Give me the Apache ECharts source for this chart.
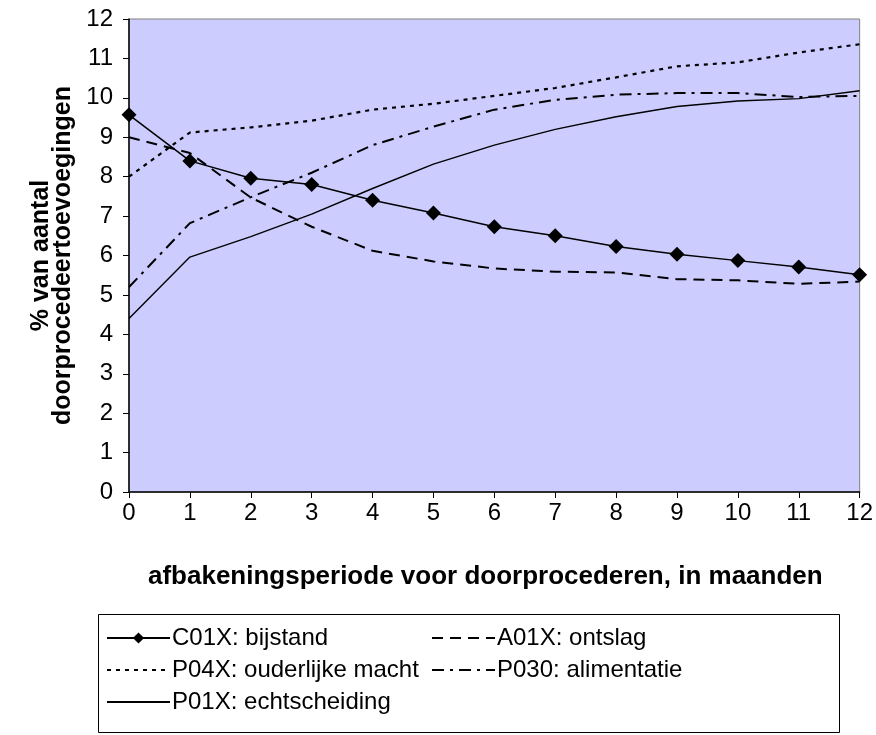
<!DOCTYPE html>
<html><head><meta charset="utf-8">
<script src="https://cdn.jsdelivr.net/npm/echarts@6/dist/echarts.min.js"></script>
<style>html,body{margin:0;padding:0;background:#fff}#c{width:876px;height:735px}</style>
</head><body><div id="c"></div>
<script>
const months = [0,1,2,3,4,5,6,7,8,9,10,11,12];
const c01x = [9.57,8.4,7.96,7.8,7.4,7.08,6.73,6.5,6.23,6.03,5.87,5.71,5.51];
const a01x = [9.0,8.6,7.47,6.73,6.12,5.85,5.67,5.59,5.57,5.4,5.37,5.28,5.34];
const p04x = [8.0,9.12,9.25,9.42,9.7,9.85,10.05,10.25,10.52,10.8,10.9,11.15,11.36];
const p030 = [5.2,6.82,7.48,8.1,8.8,9.27,9.7,9.95,10.08,10.12,10.12,10.02,10.05];
const p01x = [4.4,5.96,6.48,7.05,7.7,8.32,8.8,9.2,9.52,9.78,9.92,9.98,10.18];
const names = ['C01X: bijstand','A01X: ontslag','P04X: ouderlijke macht','P030: alimentatie','P01X: echtscheiding'];
const yTicks = [0,1,2,3,4,5,6,7,8,9,10,11,12];

const pair = a => months.map((m,i)=>[m,a[i]]);
const F = 'Liberation Sans, Arial, sans-serif';
const chart = echarts.init(document.getElementById('c'));
const hideSym = n => ({name:n, itemStyle:{opacity:0}});
const legendBase = {
  orient:'vertical', itemWidth:63, itemHeight:14, itemGap:8,
  textStyle:{fontFamily:F,fontSize:24,color:'#000',padding:[0,0,0,-3],lineHeight:24}
};
chart.setOption({
  animation:false,
  backgroundColor:'#fff',
  grid:{left:129,right:16,top:19,bottom:243,show:true,backgroundColor:'#CCCCFF',borderColor:'#808080',borderWidth:1},
  xAxis:{type:'value',min:0,max:12,interval:1,
    name:'afbakeningsperiode voor doorprocederen, in maanden',nameLocation:'middle',nameGap:72,
    nameTextStyle:{fontFamily:F,fontSize:26,fontWeight:'bold',color:'#000',padding:[0,18,0,0]},
    axisLine:{lineStyle:{color:'#000',width:1.5}},
    axisTick:{length:6,lineStyle:{color:'#000'}},
    axisLabel:{fontFamily:F,fontSize:24,color:'#000',margin:9},
    splitLine:{show:false}},
  yAxis:{type:'value',min:0,max:12,interval:1,
    name:'% van aantal\ndoorprocedeertoevoegingen',nameLocation:'middle',nameGap:53,nameRotate:90,
    nameTextStyle:{fontFamily:F,fontSize:25,fontWeight:'bold',color:'#000',lineHeight:22},
    axisLine:{show:true,lineStyle:{color:'#000',width:1.5}},
    axisTick:{show:true,length:6,lineStyle:{color:'#000'}},
    axisLabel:{fontFamily:F,fontSize:24,color:'#000',margin:16,formatter:v=>yTicks.includes(v)?String(v):''},
    splitLine:{show:false}},
  legend:[
    Object.assign({},legendBase,{left:101,top:621,data:[names[0],hideSym(names[2]),hideSym(names[4])]}),
    Object.assign({},legendBase,{left:426,top:621,data:[hideSym(names[1]),hideSym(names[3])]})
  ],
  graphic:[{type:'rect',shape:{x:98.5,y:614.5,width:741,height:118},style:{fill:null,stroke:'#000',lineWidth:1},z:-1}],
  series:[
    {name:names[0],type:'line',data:pair(c01x),symbol:'diamond',symbolSize:15,
     lineStyle:{color:'#000',width:1.5,type:'solid'},itemStyle:{color:'#000'}},
    {name:names[1],type:'line',data:pair(a01x),symbol:'none',
     lineStyle:{color:'#000',width:2,type:[11,7]},itemStyle:{color:'#000'}},
    {name:names[2],type:'line',data:pair(p04x),symbol:'none',
     lineStyle:{color:'#000',width:2.2,type:[4,5]},itemStyle:{color:'#000'}},
    {name:names[3],type:'line',data:pair(p030),symbol:'none',
     lineStyle:{color:'#000',width:2,type:[12,6,3,6]},itemStyle:{color:'#000'}},
    {name:names[4],type:'line',data:pair(p01x),symbol:'none',
     lineStyle:{color:'#000',width:1.4,type:'solid'},itemStyle:{color:'#000'}}
  ]
});
</script></body></html>
